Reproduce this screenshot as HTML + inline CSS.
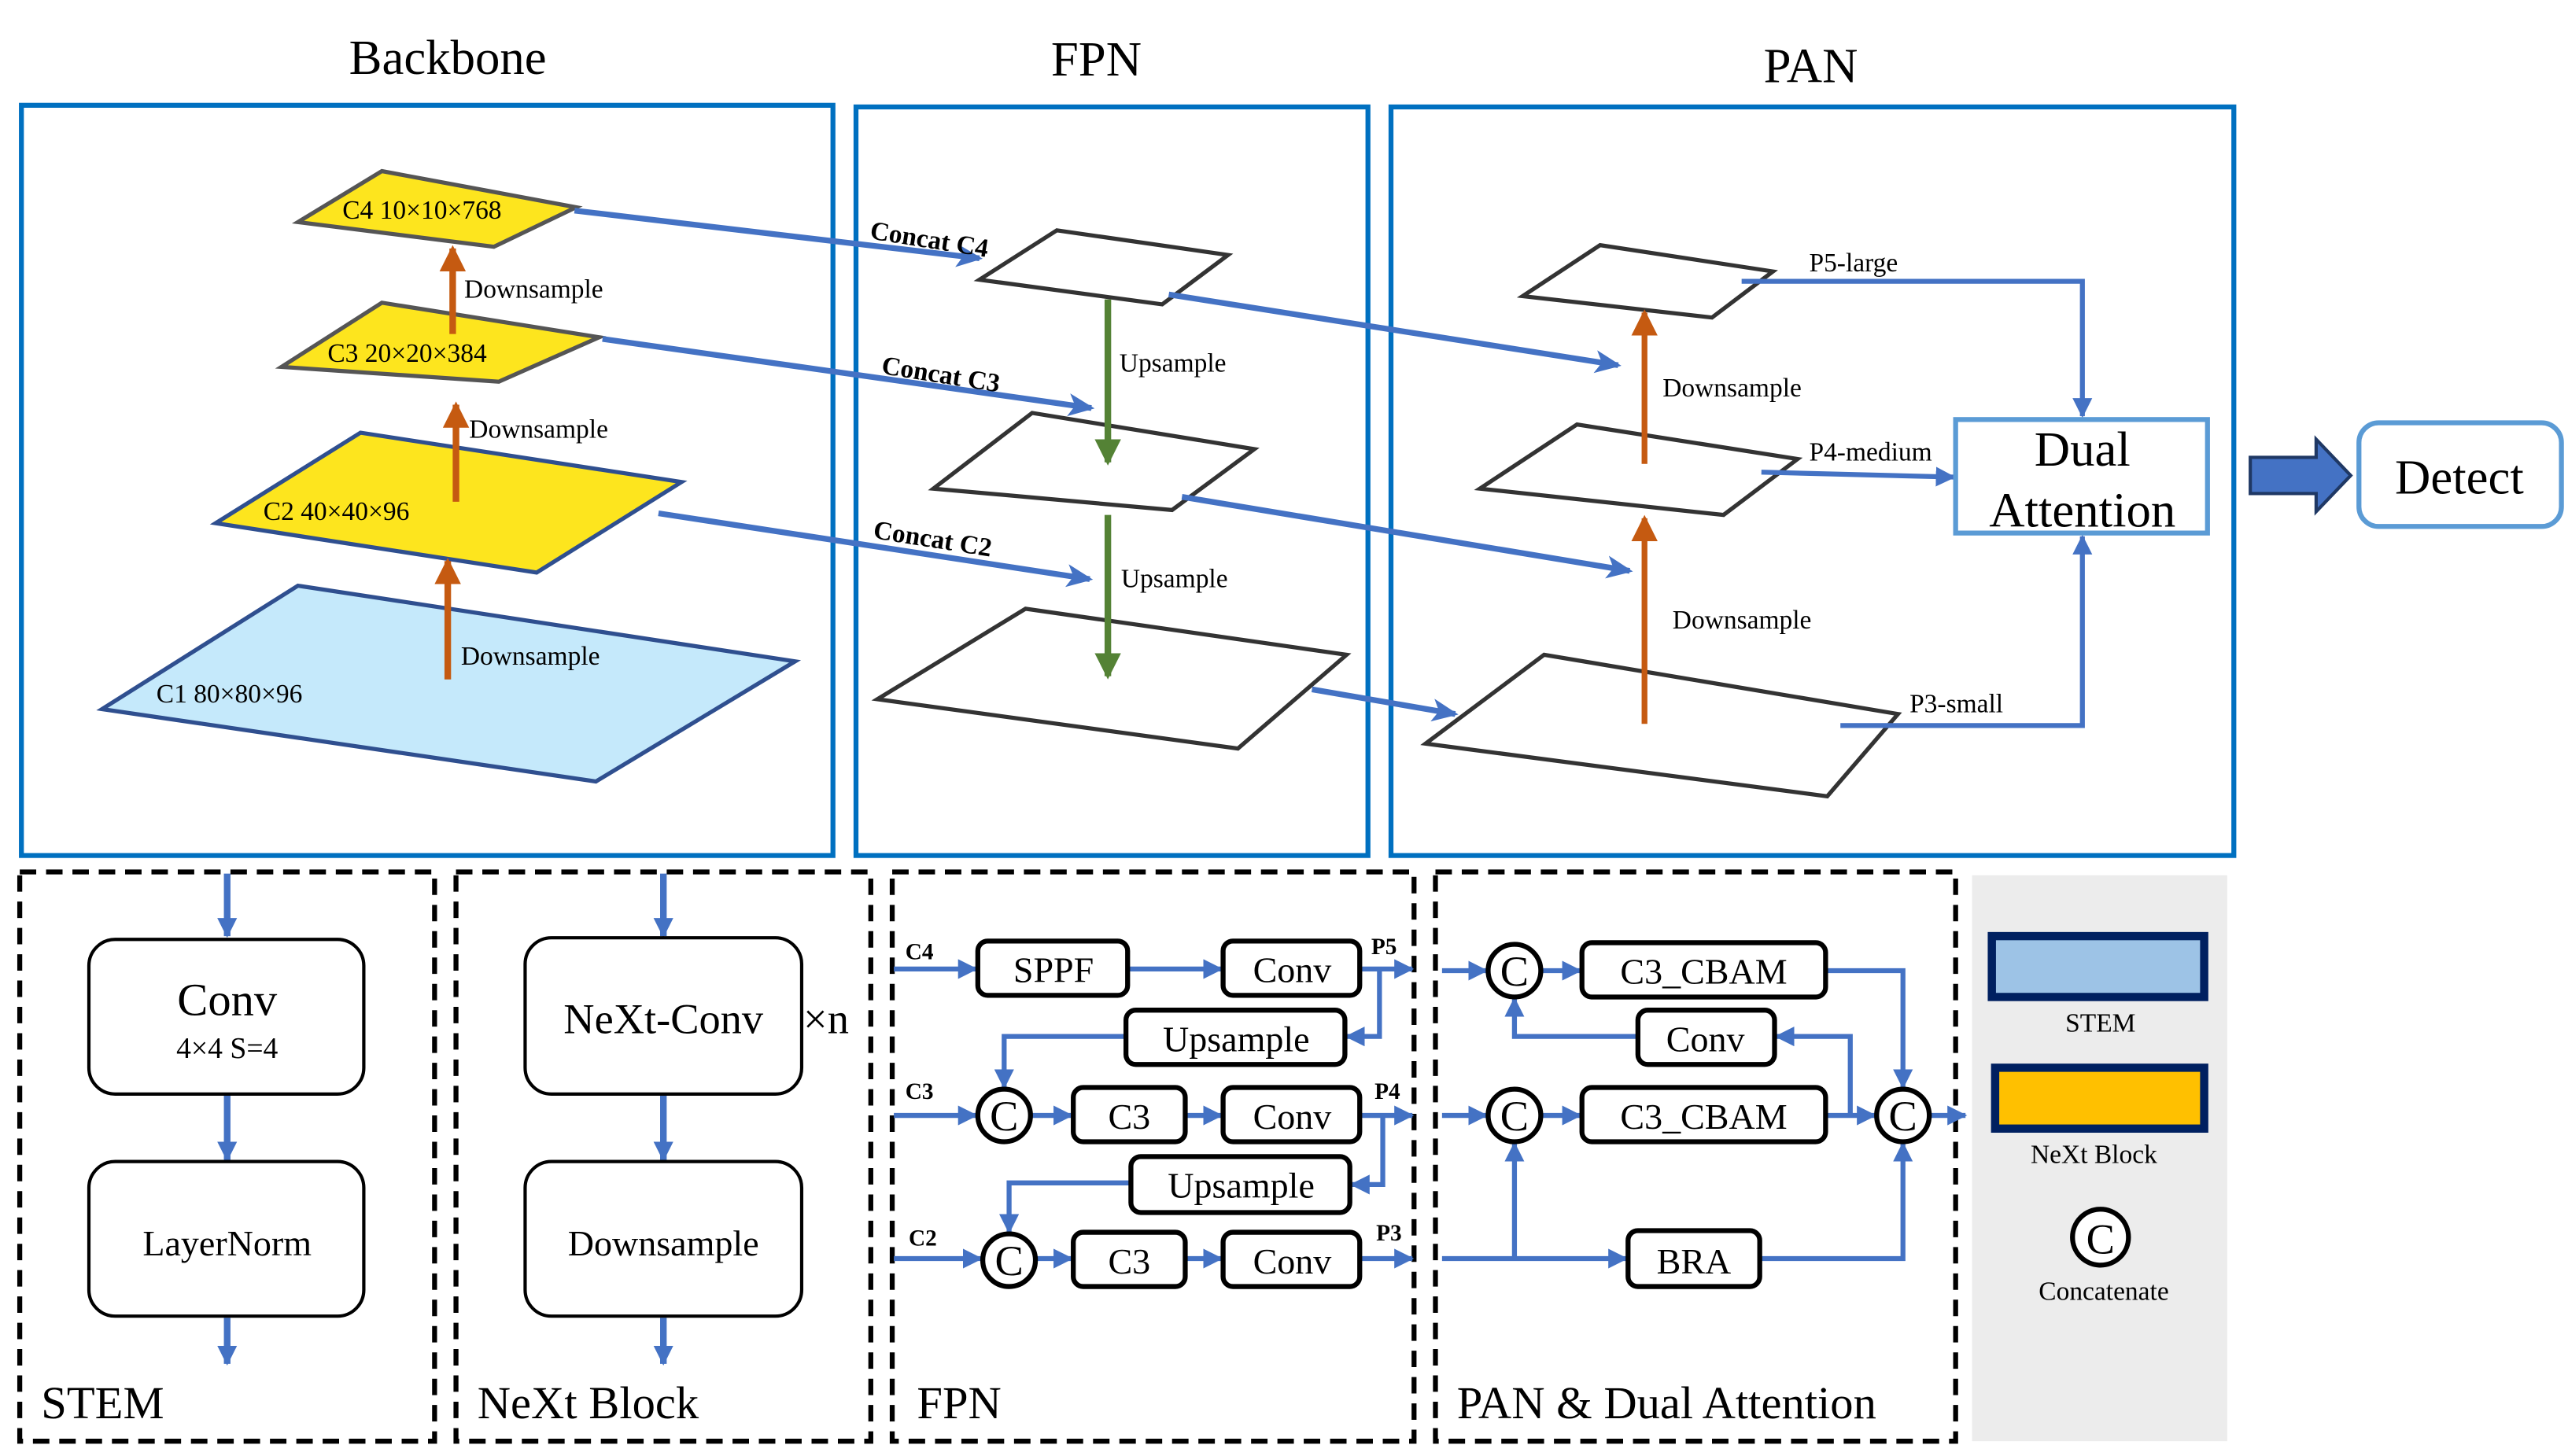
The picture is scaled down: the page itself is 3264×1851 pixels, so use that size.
<!DOCTYPE html>
<html><head><meta charset="utf-8"><style>
html,body{margin:0;padding:0;background:#fff;}
svg{display:block;font-family:'Liberation Serif','Times New Roman',serif;}
svg text{font-family:'Liberation Serif','Times New Roman',serif;fill:#000;}
</style></head><body>
<svg width="3264" height="1851" viewBox="0 0 1560 885" preserveAspectRatio="none" xmlns="http://www.w3.org/2000/svg" font-family="Liberation Serif, serif">
<defs>
<marker id="ab" markerUnits="userSpaceOnUse" markerWidth="16" markerHeight="14" refX="14" refY="7" orient="auto"><path d="M0,0 L16,7 L0,14 L4,7 Z" fill="#4472c4"/></marker>
<marker id="ab2" markerUnits="userSpaceOnUse" markerWidth="12" markerHeight="12" refX="11" refY="6" orient="auto"><path d="M0,0 L12,6 L0,12 Z" fill="#4472c4"/></marker>
<marker id="ao" markerUnits="userSpaceOnUse" markerWidth="16" markerHeight="16" refX="14" refY="8" orient="auto"><path d="M0,0 L16,8 L0,16 Z" fill="#c55a11"/></marker>
<marker id="ag" markerUnits="userSpaceOnUse" markerWidth="16" markerHeight="16" refX="14" refY="8" orient="auto"><path d="M0,0 L16,8 L0,16 Z" fill="#548235"/></marker>
</defs>

<text x="272" y="45" font-size="30" text-anchor="middle">Backbone</text>
<text x="666" y="46" font-size="30" text-anchor="middle">FPN</text>
<text x="1100" y="50" font-size="30" text-anchor="middle">PAN</text>

<g fill="none" stroke="#0070c0" stroke-width="3">
<rect x="13" y="64" width="493" height="456"/>
<rect x="520" y="65" width="311" height="455"/>
<rect x="845" y="65" width="512" height="455"/>
</g>

<polygon points="62,431 181,356 483,402 362,475" fill="#c5e9fb" stroke="#2f4f8f" stroke-width="2.5"/>
<polygon points="131,318 219,263 414,293 326,348" fill="#fde51e" stroke="#2f4f8f" stroke-width="2.5"/>
<polygon points="171,223 232,184 364,205 303,232" fill="#fde51e" stroke="#555" stroke-width="2.5"/>
<polygon points="181,135 232,104 350,126 300,150" fill="#fde51e" stroke="#555" stroke-width="2.5"/>
<text x="208" y="133" font-size="16">C4 10×10×768</text>
<text x="199" y="220" font-size="16">C3 20×20×384</text>
<text x="160" y="316" font-size="16">C2 40×40×96</text>
<text x="95" y="427" font-size="16">C1 80×80×96</text>
<g stroke="#c55a11" stroke-width="4">
<line x1="275" y1="203" x2="275" y2="151" marker-end="url(#ao)"/>
<line x1="277" y1="305" x2="277" y2="246" marker-end="url(#ao)"/>
<line x1="272" y1="413" x2="272" y2="341" marker-end="url(#ao)"/>
</g>
<text x="282" y="181" font-size="16">Downsample</text>
<text x="285" y="266" font-size="16">Downsample</text>
<text x="280" y="404" font-size="16">Downsample</text>

<g fill="#fff" stroke="#333" stroke-width="2.5">
<polygon points="595,170 642,140 746,155 706,185"/>
<polygon points="567,297 627,251 762,273 712,310"/>
<polygon points="533,425 623,370 818,398 752,455"/>
</g>
<g stroke="#548235" stroke-width="4">
<line x1="673" y1="182" x2="673" y2="281" marker-end="url(#ag)"/>
<line x1="673" y1="313" x2="673" y2="411" marker-end="url(#ag)"/>
</g>
<text x="680" y="226" font-size="16">Upsample</text>
<text x="681" y="357" font-size="16">Upsample</text>

<g stroke="#4472c4" stroke-width="3.5" fill="none">
<line x1="349" y1="128" x2="595" y2="157" marker-end="url(#ab)"/>
<line x1="366" y1="206" x2="663" y2="248" marker-end="url(#ab)"/>
<line x1="400" y1="312" x2="662" y2="352" marker-end="url(#ab)"/>
<line x1="710" y1="179" x2="983" y2="222" marker-end="url(#ab)"/>
<line x1="718" y1="302" x2="990" y2="347" marker-end="url(#ab)"/>
<line x1="797" y1="419" x2="884" y2="434" marker-end="url(#ab)"/>
</g>
<text x="528" y="145" font-size="16" font-weight="bold" transform="rotate(9 528 145)">Concat C4</text>
<text x="535" y="227" font-size="16" font-weight="bold" transform="rotate(9 535 227)">Concat C3</text>
<text x="530" y="327" font-size="16" font-weight="bold" transform="rotate(9 530 327)">Concat C2</text>

<g fill="#fff" stroke="#333" stroke-width="2.5">
<polygon points="925,180 972,149 1077,165 1040,193"/>
<polygon points="899,297 958,258 1092,279 1047,313"/>
<polygon points="866,452 938,398 1153,434 1110,484"/>
</g>
<g stroke="#c55a11" stroke-width="3.5">
<line x1="999" y1="282" x2="999" y2="190" marker-end="url(#ao)"/>
<line x1="999" y1="440" x2="999" y2="315" marker-end="url(#ao)"/>
</g>
<text x="1010" y="241" font-size="16">Downsample</text>
<text x="1016" y="382" font-size="16">Downsample</text>
<text x="1099" y="165" font-size="16">P5-large</text>
<text x="1099" y="280" font-size="16">P4-medium</text>
<text x="1160" y="433" font-size="16">P3-small</text>
<g stroke="#4472c4" stroke-width="3" fill="none">
<polyline points="1058,171 1265,171 1265,253" marker-end="url(#ab2)"/>
<line x1="1070" y1="287" x2="1187" y2="290" marker-end="url(#ab2)"/>
<polyline points="1118,441 1265,441 1265,326" marker-end="url(#ab2)"/>
</g>
<rect x="1188" y="255" width="153" height="69" fill="#fff" stroke="#5b9bd5" stroke-width="3"/>
<text x="1265" y="283" font-size="30" text-anchor="middle">Dual</text>
<text x="1265" y="320" font-size="30" text-anchor="middle">Attention</text>

<polygon points="1367,278 1407,278 1407,267 1428,289 1407,311 1407,300 1367,300" fill="#4472c4" stroke="#1f3864" stroke-width="2"/>
<rect x="1433" y="257" width="123" height="63" rx="12" fill="#fff" stroke="#5b9bd5" stroke-width="3"/>
<text x="1494" y="300" font-size="30" text-anchor="middle">Detect</text>

<g fill="none" stroke="#000" stroke-width="3" stroke-dasharray="10,6">
<rect x="12" y="530" width="252" height="346"/>
<rect x="277" y="530" width="252" height="346"/>
<rect x="542" y="530" width="317" height="346"/>
<rect x="872" y="530" width="316" height="346"/>
</g>
<rect x="1198" y="532" width="155" height="344" fill="#ececec"/>

<g stroke="#4472c4" stroke-width="4">
<line x1="138" y1="531" x2="138" y2="569" marker-end="url(#ab2)"/>
<line x1="138" y1="666" x2="138" y2="705" marker-end="url(#ab2)"/>
<line x1="138" y1="801" x2="138" y2="829" marker-end="url(#ab2)"/>
<line x1="403" y1="531" x2="403" y2="569" marker-end="url(#ab2)"/>
<line x1="403" y1="666" x2="403" y2="705" marker-end="url(#ab2)"/>
<line x1="403" y1="801" x2="403" y2="829" marker-end="url(#ab2)"/>
</g>
<g fill="#fff" stroke="#000" stroke-width="2">
<rect x="54" y="571" width="167" height="94" rx="16"/>
<rect x="54" y="706" width="167" height="94" rx="16"/>
<rect x="319" y="570" width="168" height="95" rx="16"/>
<rect x="319" y="706" width="168" height="94" rx="16"/>
</g>
<text x="138" y="617" font-size="28" text-anchor="middle">Conv</text>
<text x="138" y="643" font-size="18" text-anchor="middle">4×4 S=4</text>
<text x="138" y="763" font-size="22" text-anchor="middle">LayerNorm</text>
<text x="25" y="862" font-size="28">STEM</text>
<text x="403" y="628" font-size="26" text-anchor="middle">NeXt-Conv</text>
<text x="488" y="628" font-size="26">×n</text>
<text x="403" y="763" font-size="22" text-anchor="middle">Downsample</text>
<text x="290" y="862" font-size="28">NeXt Block</text>

<g stroke="#4472c4" stroke-width="3" fill="none">
<line x1="543" y1="589" x2="593" y2="589" marker-end="url(#ab2)"/>
<line x1="686" y1="589" x2="742" y2="589" marker-end="url(#ab2)"/>
<line x1="827" y1="589" x2="858" y2="589" marker-end="url(#ab2)"/>
<polyline points="838,589 838,630 818,630" marker-end="url(#ab2)"/>
<polyline points="684,630 610,630 610,661" marker-end="url(#ab2)"/>
<line x1="543" y1="678" x2="593" y2="678" marker-end="url(#ab2)"/>
<line x1="626" y1="678" x2="651" y2="678" marker-end="url(#ab2)"/>
<line x1="720" y1="678" x2="742" y2="678" marker-end="url(#ab2)"/>
<line x1="827" y1="678" x2="858" y2="678" marker-end="url(#ab2)"/>
<polyline points="840,678 840,720 821,720" marker-end="url(#ab2)"/>
<polyline points="687,719 613,719 613,749" marker-end="url(#ab2)"/>
<line x1="543" y1="765" x2="596" y2="765" marker-end="url(#ab2)"/>
<line x1="629" y1="765" x2="651" y2="765" marker-end="url(#ab2)"/>
<line x1="720" y1="765" x2="742" y2="765" marker-end="url(#ab2)"/>
<line x1="827" y1="765" x2="858" y2="765" marker-end="url(#ab2)"/>
</g>
<g fill="#fff" stroke="#000" stroke-width="3">
<rect x="594" y="572" width="91" height="33" rx="6"/>
<rect x="743" y="572" width="83" height="33" rx="6"/>
<rect x="684" y="614" width="133" height="33" rx="6"/>
<rect x="652" y="661" width="68" height="33" rx="6"/>
<rect x="743" y="661" width="83" height="33" rx="6"/>
<rect x="687" y="703" width="133" height="34" rx="6"/>
<rect x="652" y="749" width="68" height="33" rx="6"/>
<rect x="743" y="749" width="83" height="33" rx="6"/>
<circle cx="610" cy="678" r="16"/>
<circle cx="613" cy="766" r="16"/>
</g>
<g font-size="22" text-anchor="middle">
<text x="640" y="597">SPPF</text>
<text x="785" y="597">Conv</text>
<text x="751" y="639">Upsample</text>
<text x="686" y="686">C3</text>
<text x="785" y="686">Conv</text>
<text x="754" y="728">Upsample</text>
<text x="686" y="774">C3</text>
<text x="785" y="774">Conv</text>
<text x="610" y="687" font-size="26">C</text>
<text x="613" y="775" font-size="26">C</text>
</g>
<g font-size="14" font-weight="bold">
<text x="550" y="583">C4</text>
<text x="550" y="668">C3</text>
<text x="552" y="757">C2</text>
<text x="833" y="580">P5</text>
<text x="835" y="668">P4</text>
<text x="836" y="754">P3</text>
</g>
<text x="557" y="862" font-size="28">FPN</text>

<g stroke="#4472c4" stroke-width="3" fill="none">
<line x1="876" y1="590" x2="903" y2="590" marker-end="url(#ab2)"/>
<line x1="936" y1="590" x2="960" y2="590" marker-end="url(#ab2)"/>
<polyline points="1109,590 1156,590 1156,661" marker-end="url(#ab2)"/>
<polyline points="1124,678 1124,630 1079,630" marker-end="url(#ab2)"/>
<polyline points="995,630 920,630 920,607" marker-end="url(#ab2)"/>
<line x1="876" y1="678" x2="903" y2="678" marker-end="url(#ab2)"/>
<line x1="936" y1="678" x2="960" y2="678" marker-end="url(#ab2)"/>
<line x1="1109" y1="678" x2="1139" y2="678" marker-end="url(#ab2)"/>
<line x1="1172" y1="678" x2="1194" y2="678" marker-end="url(#ab2)"/>
<line x1="876" y1="765" x2="988" y2="765" marker-end="url(#ab2)"/>
<polyline points="920,765 920,695" marker-end="url(#ab2)"/>
<polyline points="1069,765 1156,765 1156,695" marker-end="url(#ab2)"/>
</g>
<g fill="#fff" stroke="#000" stroke-width="3">
<rect x="961" y="573" width="148" height="33" rx="6"/>
<rect x="995" y="614" width="83" height="33" rx="6"/>
<rect x="961" y="661" width="148" height="33" rx="6"/>
<rect x="989" y="748" width="80" height="34" rx="6"/>
<circle cx="920" cy="590" r="16"/>
<circle cx="920" cy="678" r="16"/>
<circle cx="1156" cy="678" r="16"/>
</g>
<g font-size="22" text-anchor="middle">
<text x="1035" y="598">C3_CBAM</text>
<text x="1036" y="639">Conv</text>
<text x="1035" y="686">C3_CBAM</text>
<text x="1029" y="774">BRA</text>
<text x="920" y="599" font-size="26">C</text>
<text x="920" y="687" font-size="26">C</text>
<text x="1156" y="687" font-size="26">C</text>
</g>
<text x="885" y="862" font-size="28">PAN &amp; Dual Attention</text>

<rect x="1210" y="569" width="129" height="37" fill="#9dc3e6" stroke="#002060" stroke-width="5"/>
<text x="1276" y="627" font-size="16" text-anchor="middle">STEM</text>
<rect x="1212" y="649" width="127" height="37" fill="#ffc000" stroke="#002060" stroke-width="5"/>
<text x="1272" y="707" font-size="16" text-anchor="middle">NeXt Block</text>
<circle cx="1276" cy="752" r="17" fill="#fff" stroke="#000" stroke-width="3"/>
<text x="1276" y="762" font-size="26" text-anchor="middle">C</text>
<text x="1278" y="790" font-size="16" text-anchor="middle">Concatenate</text>
</svg>
</body></html>
